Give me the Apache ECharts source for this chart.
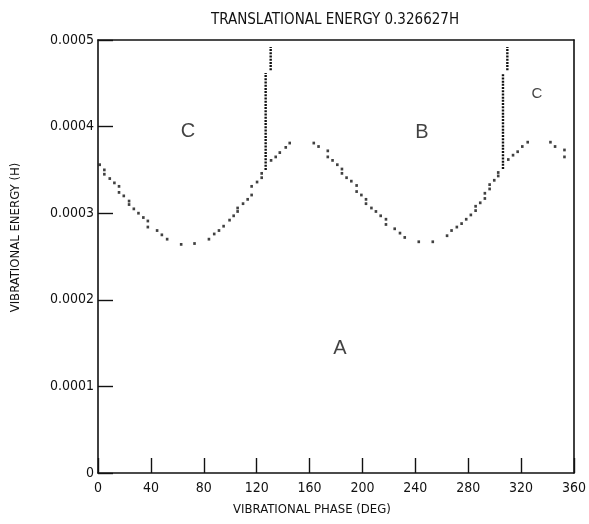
<!DOCTYPE html>
<html>
<head>
<meta charset="utf-8">
<script src="https://cdn.jsdelivr.net/npm/echarts@6/dist/echarts.min.js"></script>
<style>
    html, body { margin: 0; padding: 0; background: #fff; }
    #chart { width: 589px; height: 524px; }
</style>
</head>
<body>
<div id="chart"></div>
<script>
// energies below are read in units of 1e-4 H
const UNIT = 1e-4;

const xTicks = [0, 40, 80, 120, 160, 200, 240, 280, 320, 360];
const yTicks = [0, 0.0001, 0.0002, 0.0003, 0.0004, 0.0005];

const leftArcPhase = [1.3, 4.8, 4.8, 8.9, 12.4, 15.9, 15.9, 19.5, 23.5, 23.5, 27.1, 30.6, 34.3, 37.7, 37.7,
    44.7, 48.3, 52.3, 62.9, 73.0, 83.9, 87.9, 91.5, 95.0, 99.5, 102.6, 105.6, 105.6, 109.7, 113.2,
    116.2, 116.2, 120.3, 123.8, 123.8];
const leftArcEnergy = [3.56, 3.50, 3.45, 3.40, 3.35, 3.31, 3.24, 3.20, 3.14, 3.10, 3.05, 3.00, 2.95, 2.91, 2.84,
    2.80, 2.75, 2.70, 2.64, 2.65, 2.70, 2.76, 2.80, 2.85, 2.92, 2.97, 3.02, 3.06, 3.11, 3.16,
    3.21, 3.31, 3.36, 3.41, 3.46];

const leftBranchPhase = [130.9, 134.4, 137.5, 142.0, 145.0];
const leftBranchEnergy = [3.61, 3.65, 3.70, 3.76, 3.81];

const midArcPhase = [163.2, 166.8, 173.8, 173.8, 177.4, 181.0, 184.5, 184.5, 188.0, 191.6, 195.6, 195.6,
    199.2, 202.7, 202.7, 206.8, 210.2, 213.8, 217.8, 217.8, 224.4, 228.4, 232.0, 242.6, 253.2,
    264.0, 267.4, 271.4, 275.0, 278.5, 282.0, 285.6, 285.6, 289.1, 292.6, 292.6, 296.2, 296.2,
    299.7, 302.7, 302.7];
const midArcEnergy = [3.81, 3.77, 3.72, 3.65, 3.61, 3.56, 3.51, 3.46, 3.41, 3.37, 3.32, 3.25,
    3.21, 3.16, 3.11, 3.06, 3.02, 2.97, 2.93, 2.87, 2.82, 2.77, 2.72, 2.67, 2.67,
    2.74, 2.80, 2.84, 2.88, 2.93, 2.98, 3.03, 3.08, 3.12, 3.17, 3.23, 3.28, 3.33,
    3.38, 3.43, 3.47];

const rightBranchPhase = [310.3, 313.9, 317.4, 320.9, 325.0];
const rightBranchEnergy = [3.62, 3.67, 3.71, 3.77, 3.82];

const tailPhase = [342.2, 345.7, 352.8, 352.8];
const tailEnergy = [3.82, 3.77, 3.73, 3.65];

// vertical dotted jumps
const spikePhase = [126.8, 130.6, 306.3, 309.6];
const spikeLow = [3.50, 4.65, 3.51, 4.65];
const spikeHigh = [4.62, 4.92, 4.62, 4.92];

// region letters
const regionNames = ['C', 'B', 'A', 'C'];
const regionPhase = [68, 245, 183, 332];
const regionEnergy = [3.94, 3.93, 1.44, 4.38];
const regionSize = [20, 20, 20, 15];

const ink = '#111';
const plotFont = '"Liberation Sans Narrow", "DejaVu Sans Condensed", "DejaVu Sans Mono", monospace';

const toPairs = (xs, ys) => xs.map((x, i) => [x, ys[i] * UNIT]);

const dots = [].concat(
    toPairs(leftArcPhase, leftArcEnergy),
    toPairs(leftBranchPhase, leftBranchEnergy),
    toPairs(midArcPhase, midArcEnergy),
    toPairs(rightBranchPhase, rightBranchEnergy),
    toPairs(tailPhase, tailEnergy)
);

const spikeSeries = spikePhase.map((x, i) => ({
    type: 'line',
    data: [[x, spikeLow[i] * UNIT], [x, spikeHigh[i] * UNIT]],
    showSymbol: false,
    silent: true,
    lineStyle: { color: ink, width: 2.4, type: [2, 1.2] },
    z: 3
}));

const chart = echarts.init(document.getElementById('chart'));

const axisLine = { show: true, onZero: false, lineStyle: { color: ink, width: 1.6 } };

chart.setOption({
    animation: false,
    backgroundColor: '#fff',
    title: {
        text: 'TRANSLATIONAL ENERGY 0.326627H',
        left: 330,
        top: 8,
        textAlign: 'center',
        textStyle: { fontFamily: plotFont, fontSize: 15, fontWeight: 'normal', color: ink }
    },
    grid: { left: 98, right: 15, top: 40, bottom: 51 },
    xAxis: [
        {
            type: 'value',
            min: 0,
            max: 360,
            interval: 40,
            name: 'VIBRATIONAL PHASE (DEG)',
            nameLocation: 'middle',
            nameGap: 30,
            nameTextStyle: { fontFamily: plotFont, fontSize: 13, color: ink, padding: [0, 48, 0, 0] },
            axisLine: axisLine,
            axisTick: { show: true, inside: true, length: 15, lineStyle: { color: ink, width: 1.4 } },
            axisLabel: {
                margin: 8,
                fontFamily: plotFont,
                fontSize: 14,
                color: ink,
                customValues: xTicks
            },
            splitLine: { show: false }
        },
        {
            type: 'value',
            position: 'top',
            min: 0,
            max: 360,
            axisLine: axisLine,
            axisTick: { show: false },
            axisLabel: { show: false },
            splitLine: { show: false }
        }
    ],
    yAxis: [
        {
            type: 'value',
            min: 0,
            max: 0.0005,
            interval: 0.0001,
            name: 'VIBRATIONAL ENERGY (H)',
            nameLocation: 'middle',
            nameRotate: 90,
            nameGap: 76,
            nameTextStyle: { fontFamily: plotFont, fontSize: 13, color: ink, padding: [0, 0, 0, 38] },
            axisLine: axisLine,
            axisTick: { show: true, inside: true, length: 15, lineStyle: { color: ink, width: 1.4 } },
            axisLabel: {
                margin: 4,
                fontFamily: plotFont,
                fontSize: 14,
                color: ink,
                customValues: yTicks,
                formatter: v => v === 0 ? '0' : v.toFixed(4)
            },
            splitLine: { show: false }
        },
        {
            type: 'value',
            position: 'right',
            min: 0,
            max: 0.0005,
            axisLine: axisLine,
            axisTick: { show: false },
            axisLabel: { show: false },
            splitLine: { show: false }
        }
    ],
    series: [
        {
            type: 'scatter',
            data: dots,
            symbol: 'rect',
            symbolSize: [2.6, 2.8],
            itemStyle: { color: ink },
            silent: true,
            z: 4
        },
        ...spikeSeries,
        {
            type: 'scatter',
            data: regionPhase.map((x, i) => ({
                value: [x, regionEnergy[i] * UNIT],
                label: { fontSize: regionSize[i] }
            })),
            symbolSize: 0,
            silent: true,
            label: {
                show: true,
                position: 'inside',
                formatter: p => regionNames[p.dataIndex],
                fontFamily: '"Liberation Sans", "DejaVu Sans", sans-serif',
                color: ink
            }
        }
    ]
});
</script>
</body>
</html>
